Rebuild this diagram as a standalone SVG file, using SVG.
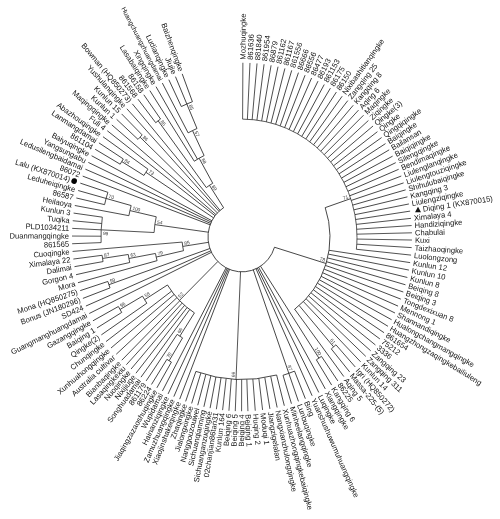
<svg xmlns="http://www.w3.org/2000/svg" width="500" height="519" viewBox="0 0 500 519">
<style>
text{font-family:"Liberation Sans",Arial,sans-serif;font-size:7.6px;fill:#111}
.l{text-anchor:end}
.b{font-size:4.8px;fill:#333}
.s{font-size:6.6px}
#connectors line,#connectors circle{stroke:#222;stroke-width:0.75;fill:none}
#tree{opacity:0.995}
</style>
<rect width="500" height="519" fill="#fff"/>
<g id="tree" transform="translate(242,237) scale(1,1.025)">
<g id="connectors">
<circle r="115" transform="rotate(-89.7)" stroke-dasharray="192.02 3000"/>
<circle r="88" transform="rotate(-19)" stroke-dasharray="110.91 3000"/>
<circle r="34" transform="rotate(17.1)" stroke-dasharray="130.59 3000"/>
<circle r="141" transform="rotate(48.23)" stroke-dasharray="6.13 3000"/>
<circle r="141" transform="rotate(55.69)" stroke-dasharray="6.13 3000"/>
<circle r="141" transform="rotate(68.12)" stroke-dasharray="12.23 3000"/>
<circle r="139" transform="rotate(75.58)" stroke-dasharray="81.95 3000"/>
<circle r="141" transform="rotate(120.05)" stroke-dasharray="5.24 3000"/>
<circle r="115" transform="rotate(121.12)" stroke-dasharray="6.42 3000"/>
<circle r="141" transform="rotate(148.54)" stroke-dasharray="6.67 3000"/>
<circle r="115" transform="rotate(145.83)" stroke-dasharray="8.17 3000"/>
<circle r="88" transform="rotate(122.72)" stroke-dasharray="38.63 3000"/>
<circle r="141" transform="rotate(159.37)" stroke-dasharray="6.67 3000"/>
<circle r="141" transform="rotate(170.2)" stroke-dasharray="6.23 3000"/>
<circle r="115" transform="rotate(167.5)" stroke-dasharray="7.97 3000"/>
<circle r="88" transform="rotate(164.79)" stroke-dasharray="7.22 3000"/>
<circle r="60" transform="rotate(167.14)" stroke-dasharray="8.49 3000"/>
<circle r="141" transform="rotate(177.78)" stroke-dasharray="24.88 3000"/>
<circle r="141" transform="rotate(192.94)" stroke-dasharray="12.45 3000"/>
<circle r="115" transform="rotate(190.42)" stroke-dasharray="10.14 3000"/>
<circle r="88" transform="rotate(182.84)" stroke-dasharray="15.53 3000"/>
<circle r="141" transform="rotate(210.24)" stroke-dasharray="6.03 3000"/>
<circle r="115" transform="rotate(211.47)" stroke-dasharray="7.37 3000"/>
<circle r="141" transform="rotate(222.48)" stroke-dasharray="6.03 3000"/>
<circle r="141" transform="rotate(232.27)" stroke-dasharray="6.03 3000"/>
<circle r="141" transform="rotate(244.51)" stroke-dasharray="12.06 3000"/>
<circle r="115" transform="rotate(242.06)" stroke-dasharray="9.84 3000"/>
<circle r="88" transform="rotate(237.17)" stroke-dasharray="11.27 3000"/>
<circle r="60" transform="rotate(233.5)" stroke-dasharray="7.69 3000"/>
<line x1="88" x2="115" transform="rotate(-19)"/>
<line x1="34" x2="88" transform="rotate(17.1)"/>
<line x1="88" x2="141" transform="rotate(49.48)"/>
<line x1="34" x2="141" transform="rotate(56.94)"/>
<line x1="34" x2="141" transform="rotate(70.6)"/>
<line x1="34" x2="139" transform="rotate(92.47)"/>
<line x1="115" x2="141" transform="rotate(121.12)"/>
<line x1="88" x2="115" transform="rotate(122.72)"/>
<line x1="115" x2="141" transform="rotate(149.9)"/>
<line x1="88" x2="115" transform="rotate(147.87)"/>
<line x1="34" x2="88" transform="rotate(135.3)"/>
<line x1="34" x2="141" transform="rotate(160.73)"/>
<line x1="115" x2="141" transform="rotate(171.47)"/>
<line x1="88" x2="115" transform="rotate(169.49)"/>
<line x1="60" x2="88" transform="rotate(167.14)"/>
<line x1="34" x2="60" transform="rotate(171.2)"/>
<line x1="88" x2="141" transform="rotate(182.84)"/>
<line x1="115" x2="141" transform="rotate(195.47)"/>
<line x1="88" x2="115" transform="rotate(192.95)"/>
<line x1="34" x2="88" transform="rotate(187.9)"/>
<line x1="115" x2="141" transform="rotate(211.47)"/>
<line x1="34" x2="115" transform="rotate(213.3)"/>
<line x1="34" x2="141" transform="rotate(223.7)"/>
<line x1="60" x2="141" transform="rotate(233.5)"/>
<line x1="115" x2="141" transform="rotate(246.96)"/>
<line x1="88" x2="115" transform="rotate(244.51)"/>
<line x1="60" x2="88" transform="rotate(240.84)"/>
<line x1="34" x2="60" transform="rotate(237.17)"/>
<line x1="115" x2="170" transform="rotate(-89.7)"/>
<line x1="115" x2="170" transform="rotate(-87.31)"/>
<line x1="115" x2="170" transform="rotate(-84.93)"/>
<line x1="115" x2="170" transform="rotate(-82.54)"/>
<line x1="115" x2="170" transform="rotate(-80.15)"/>
<line x1="115" x2="170" transform="rotate(-77.76)"/>
<line x1="115" x2="170" transform="rotate(-75.38)"/>
<line x1="115" x2="170" transform="rotate(-72.99)"/>
<line x1="115" x2="170" transform="rotate(-70.6)"/>
<line x1="115" x2="170" transform="rotate(-68.22)"/>
<line x1="115" x2="170" transform="rotate(-65.83)"/>
<line x1="115" x2="170" transform="rotate(-63.44)"/>
<line x1="115" x2="170" transform="rotate(-61.06)"/>
<line x1="115" x2="170" transform="rotate(-58.67)"/>
<line x1="115" x2="170" transform="rotate(-56.28)"/>
<line x1="115" x2="170" transform="rotate(-53.89)"/>
<line x1="115" x2="170" transform="rotate(-51.51)"/>
<line x1="115" x2="170" transform="rotate(-49.12)"/>
<line x1="115" x2="170" transform="rotate(-46.73)"/>
<line x1="115" x2="170" transform="rotate(-44.35)"/>
<line x1="115" x2="170" transform="rotate(-41.96)"/>
<line x1="115" x2="170" transform="rotate(-39.57)"/>
<line x1="115" x2="170" transform="rotate(-37.19)"/>
<line x1="115" x2="170" transform="rotate(-34.8)"/>
<line x1="115" x2="170" transform="rotate(-32.41)"/>
<line x1="115" x2="170" transform="rotate(-30.02)"/>
<line x1="115" x2="170" transform="rotate(-27.64)"/>
<line x1="115" x2="170" transform="rotate(-25.25)"/>
<line x1="115" x2="170" transform="rotate(-22.86)"/>
<line x1="115" x2="170" transform="rotate(-20.48)"/>
<line x1="115" x2="170" transform="rotate(-18.09)"/>
<line x1="115" x2="170" transform="rotate(-15.7)"/>
<line x1="115" x2="170" transform="rotate(-13.32)"/>
<line x1="115" x2="170" transform="rotate(-10.93)"/>
<line x1="115" x2="170" transform="rotate(-8.54)"/>
<line x1="115" x2="170" transform="rotate(-6.15)"/>
<line x1="115" x2="170" transform="rotate(-3.77)"/>
<line x1="115" x2="170" transform="rotate(-1.38)"/>
<line x1="115" x2="170" transform="rotate(1)"/>
<line x1="115" x2="170" transform="rotate(3.49)"/>
<line x1="115" x2="170" transform="rotate(5.97)"/>
<line x1="88" x2="170" transform="rotate(8.46)"/>
<line x1="88" x2="170" transform="rotate(10.94)"/>
<line x1="88" x2="170" transform="rotate(13.43)"/>
<line x1="88" x2="170" transform="rotate(15.92)"/>
<line x1="88" x2="170" transform="rotate(18.4)"/>
<line x1="88" x2="170" transform="rotate(20.89)"/>
<line x1="88" x2="170" transform="rotate(23.37)"/>
<line x1="88" x2="170" transform="rotate(25.86)"/>
<line x1="88" x2="170" transform="rotate(28.35)"/>
<line x1="88" x2="170" transform="rotate(30.83)"/>
<line x1="88" x2="170" transform="rotate(33.32)"/>
<line x1="88" x2="170" transform="rotate(35.8)"/>
<line x1="88" x2="170" transform="rotate(38.29)"/>
<line x1="88" x2="170" transform="rotate(40.78)"/>
<line x1="88" x2="170" transform="rotate(43.26)"/>
<line x1="88" x2="170" transform="rotate(45.75)"/>
<line x1="141" x2="170" transform="rotate(48.23)"/>
<line x1="141" x2="170" transform="rotate(50.72)"/>
<line x1="88" x2="170" transform="rotate(53.21)"/>
<line x1="141" x2="170" transform="rotate(55.69)"/>
<line x1="141" x2="170" transform="rotate(58.18)"/>
<line x1="34" x2="170" transform="rotate(60.66)"/>
<line x1="34" x2="170" transform="rotate(63.15)"/>
<line x1="34" x2="170" transform="rotate(65.64)"/>
<line x1="141" x2="170" transform="rotate(68.12)"/>
<line x1="141" x2="170" transform="rotate(70.61)"/>
<line x1="141" x2="170" transform="rotate(73.09)"/>
<line x1="139" x2="170" transform="rotate(75.58)"/>
<line x1="139" x2="170" transform="rotate(78.07)"/>
<line x1="139" x2="170" transform="rotate(80.55)"/>
<line x1="139" x2="170" transform="rotate(83.04)"/>
<line x1="139" x2="170" transform="rotate(85.52)"/>
<line x1="139" x2="170" transform="rotate(88)"/>
<line x1="139" x2="170" transform="rotate(90.14)"/>
<line x1="139" x2="170" transform="rotate(92.27)"/>
<line x1="139" x2="170" transform="rotate(94.41)"/>
<line x1="139" x2="170" transform="rotate(96.55)"/>
<line x1="139" x2="170" transform="rotate(98.68)"/>
<line x1="139" x2="170" transform="rotate(100.82)"/>
<line x1="139" x2="170" transform="rotate(102.95)"/>
<line x1="139" x2="170" transform="rotate(105.09)"/>
<line x1="139" x2="170" transform="rotate(107.23)"/>
<line x1="139" x2="170" transform="rotate(109.36)"/>
<line x1="34" x2="170" transform="rotate(111.5)"/>
<line x1="34" x2="170" transform="rotate(113.64)"/>
<line x1="34" x2="170" transform="rotate(115.77)"/>
<line x1="34" x2="170" transform="rotate(117.91)"/>
<line x1="141" x2="170" transform="rotate(120.05)"/>
<line x1="141" x2="170" transform="rotate(122.18)"/>
<line x1="115" x2="170" transform="rotate(124.32)"/>
<line x1="88" x2="170" transform="rotate(126.45)"/>
<line x1="88" x2="170" transform="rotate(128.59)"/>
<line x1="88" x2="170" transform="rotate(130.73)"/>
<line x1="88" x2="170" transform="rotate(132.86)"/>
<line x1="88" x2="170" transform="rotate(135)"/>
<line x1="88" x2="170" transform="rotate(137.71)"/>
<line x1="88" x2="170" transform="rotate(140.42)"/>
<line x1="88" x2="170" transform="rotate(143.12)"/>
<line x1="115" x2="170" transform="rotate(145.83)"/>
<line x1="141" x2="170" transform="rotate(148.54)"/>
<line x1="141" x2="170" transform="rotate(151.25)"/>
<line x1="34" x2="170" transform="rotate(153.96)"/>
<line x1="34" x2="170" transform="rotate(156.66)"/>
<line x1="141" x2="170" transform="rotate(159.37)"/>
<line x1="141" x2="170" transform="rotate(162.08)"/>
<line x1="88" x2="170" transform="rotate(164.79)"/>
<line x1="115" x2="170" transform="rotate(167.5)"/>
<line x1="141" x2="170" transform="rotate(170.2)"/>
<line x1="141" x2="170" transform="rotate(172.73)"/>
<line x1="60" x2="170" transform="rotate(175.25)"/>
<line x1="141" x2="170" transform="rotate(177.78)"/>
<line x1="141" x2="170" transform="rotate(180.31)"/>
<line x1="141" x2="170" transform="rotate(182.84)"/>
<line x1="141" x2="170" transform="rotate(185.36)"/>
<line x1="141" x2="170" transform="rotate(187.89)"/>
<line x1="115" x2="170" transform="rotate(190.42)"/>
<line x1="141" x2="170" transform="rotate(192.94)"/>
<line x1="141" x2="170" transform="rotate(195.47)"/>
<line x1="141" x2="170" transform="rotate(198)"/>
<line x1="34" x2="170" transform="rotate(200.45)"/>
<line x1="34" x2="170" transform="rotate(202.9)"/>
<line x1="34" x2="170" transform="rotate(205.34)"/>
<line x1="34" x2="170" transform="rotate(207.79)"/>
<line x1="141" x2="170" transform="rotate(210.24)"/>
<line x1="141" x2="170" transform="rotate(212.69)"/>
<line x1="115" x2="170" transform="rotate(215.14)"/>
<line x1="34" x2="170" transform="rotate(217.58)"/>
<line x1="34" x2="170" transform="rotate(220.03)"/>
<line x1="141" x2="170" transform="rotate(222.48)"/>
<line x1="141" x2="170" transform="rotate(224.93)"/>
<line x1="34" x2="170" transform="rotate(227.38)"/>
<line x1="34" x2="170" transform="rotate(229.82)"/>
<line x1="141" x2="170" transform="rotate(232.27)"/>
<line x1="141" x2="170" transform="rotate(234.72)"/>
<line x1="88" x2="170" transform="rotate(237.17)"/>
<line x1="88" x2="170" transform="rotate(239.62)"/>
<line x1="115" x2="170" transform="rotate(242.06)"/>
<line x1="141" x2="170" transform="rotate(244.51)"/>
<line x1="141" x2="170" transform="rotate(246.96)"/>
<line x1="141" x2="170" transform="rotate(249.41)"/>
</g>
<g id="bootstrap">
<text class="b l" x="113" y="-1.2" transform="rotate(-19)">71</text>
<text class="b l" x="86" y="-1.2" transform="rotate(17.1)">78</text>
<text class="b l" x="139" y="-1.2" transform="rotate(49.48)">61</text>
<text class="b l" x="139" y="-1.2" transform="rotate(56.94)">100</text>
<text class="b l" x="139" y="-1.2" transform="rotate(70.6)">87</text>
<text class="b" x="-137" y="-1.2" transform="rotate(-87.53)">99</text>
<text class="b" x="-139" y="-1.2" transform="rotate(-58.88)">70</text>
<text class="b" x="-113" y="-1.2" transform="rotate(-57.28)">66</text>
<text class="b" x="-86" y="-1.2" transform="rotate(-44.7)">52</text>
<text class="b" x="-139" y="-1.2" transform="rotate(-30.1)">96</text>
<text class="b" x="-113" y="-1.2" transform="rotate(-32.13)">58</text>
<text class="b" x="-139" y="-1.2" transform="rotate(-19.27)">99</text>
<text class="b" x="-139" y="-1.2" transform="rotate(-8.53)">87</text>
<text class="b" x="-113" y="-1.2" transform="rotate(-10.51)">63</text>
<text class="b" x="-86" y="-1.2" transform="rotate(-12.86)">79</text>
<text class="b" x="-58" y="-1.2" transform="rotate(-8.8)">85</text>
<text class="b" x="-139" y="5" transform="rotate(2.84)">99</text>
<text class="b" x="-139" y="-1.2" transform="rotate(15.47)">70</text>
<text class="b" x="-113" y="-1.2" transform="rotate(12.95)">100</text>
<text class="b" x="-86" y="-1.2" transform="rotate(7.9)">54</text>
<text class="b" x="-139" y="-1.2" transform="rotate(31.47)">84</text>
<text class="b" x="-113" y="-1.2" transform="rotate(33.3)">73</text>
<text class="b" x="-139" y="-1.2" transform="rotate(43.7)">86</text>
<text class="b" x="-139" y="-1.2" transform="rotate(53.5)">85</text>
<text class="b" x="-139" y="-1.2" transform="rotate(66.96)">85</text>
<text class="b" x="-113" y="-1.2" transform="rotate(64.51)">57</text>
<text class="b" x="-86" y="-1.2" transform="rotate(60.84)">68</text>
<text class="b" x="-58" y="-1.2" transform="rotate(57.17)">89</text>
</g>
<g id="n0" transform="rotate(-89.7)"><text x="173" y="2.6">Mozhuqingke</text></g>
<g id="n1" transform="rotate(-87.31)"><text x="173" y="2.6">861636</text></g>
<g id="n2" transform="rotate(-84.93)"><text x="173" y="2.6">881840</text></g>
<g id="n3" transform="rotate(-82.54)"><text x="173" y="2.6">861954</text></g>
<g id="n4" transform="rotate(-80.15)"><text x="173" y="2.6">86879</text></g>
<g id="n5" transform="rotate(-77.76)"><text x="173" y="2.6">861162</text></g>
<g id="n6" transform="rotate(-75.38)"><text x="173" y="2.6">861167</text></g>
<g id="n7" transform="rotate(-72.99)"><text x="173" y="2.6">861556</text></g>
<g id="n8" transform="rotate(-70.6)"><text x="173" y="2.6">86666</text></g>
<g id="n9" transform="rotate(-68.22)"><text x="173" y="2.6">86556</text></g>
<g id="n10" transform="rotate(-65.83)"><text x="173" y="2.6">86477</text></g>
<g id="n11" transform="rotate(-63.44)"><text x="173" y="2.6">86193</text></g>
<g id="n12" transform="rotate(-61.06)"><text x="173" y="2.6">861153</text></g>
<g id="n13" transform="rotate(-58.67)"><text x="173" y="2.6">86175</text></g>
<g id="n14" transform="rotate(-56.28)"><text x="173" y="2.6">86150</text></g>
<g id="n15" transform="rotate(-53.89)"><text x="173" y="2.6">Nixibashitianqingke</text></g>
<g id="n16" transform="rotate(-51.51)"><text x="173" y="2.6">Zangqing 25</text></g>
<g id="n17" transform="rotate(-49.12)"><text x="173" y="2.6">Kangqing 8</text></g>
<g id="n18" transform="rotate(-46.73)"><text x="173" y="2.6">Aqing 6</text></g>
<g id="n19" transform="rotate(-44.35)"><text x="173" y="2.6">Maqingke</text></g>
<g id="n20" transform="rotate(-41.96)"><text x="173" y="2.6">Ziqingke</text></g>
<g id="n21" transform="rotate(-39.57)"><text x="173" y="2.6">Qingke(3)</text></g>
<g id="n22" transform="rotate(-37.19)"><text x="173" y="2.6">Qingke</text></g>
<g id="n23" transform="rotate(-34.8)"><text x="173" y="2.6">Qingqiqingke</text></g>
<g id="n24" transform="rotate(-32.41)"><text x="173" y="2.6">Baiqingke</text></g>
<g id="n25" transform="rotate(-30.02)"><text x="173" y="2.6">Bailansan</text></g>
<g id="n26" transform="rotate(-27.64)"><text x="173" y="2.6">Baiqiqingke</text></g>
<g id="n27" transform="rotate(-25.25)"><text x="173" y="2.6">Silengqingke</text></g>
<g id="n28" transform="rotate(-22.86)"><text x="173" y="2.6">Bendimaqingke</text></g>
<g id="n29" transform="rotate(-20.48)"><text x="173" y="2.6">Liulenglanqingke</text></g>
<g id="n30" transform="rotate(-18.09)"><text x="173" y="2.6">Liulengtouziqingke</text></g>
<g id="n31" transform="rotate(-15.7)"><text x="173" y="2.6">Shihulubaiqingke</text></g>
<g id="n32" transform="rotate(-13.32)"><text x="173" y="2.6">Kangqing 3</text></g>
<g id="n33" transform="rotate(-10.93)"><text x="173" y="2.6">Liulengziqingke</text></g>
<g id="n34" transform="rotate(-8.54)"><polygon points="-3,2.2 3,2.2 0,-3" transform="translate(178,0) rotate(8.54)" fill="#111"/><text x="183" y="2.6">Diqing 1 (KX870015)</text></g>
<g id="n35" transform="rotate(-6.15)"><text x="173" y="2.6">Ximalaya 4</text></g>
<g id="n36" transform="rotate(-3.77)"><text x="173" y="2.6">Handiziqingke</text></g>
<g id="n37" transform="rotate(-1.38)"><text x="173" y="2.6">Chabulai</text></g>
<g id="n38" transform="rotate(1)"><text x="173" y="2.6">Kuxi</text></g>
<g id="n39" transform="rotate(3.49)"><text x="173" y="2.6">Taizhaoqingke</text></g>
<g id="n40" transform="rotate(5.97)"><text x="173" y="2.6">Luolongzong</text></g>
<g id="n41" transform="rotate(8.46)"><text x="173" y="2.6">Kunlun 12</text></g>
<g id="n42" transform="rotate(10.94)"><text x="173" y="2.6">Kunlun 10</text></g>
<g id="n43" transform="rotate(13.43)"><text x="173" y="2.6">Kunlun 8</text></g>
<g id="n44" transform="rotate(15.92)"><text x="173" y="2.6">Beiqing 8</text></g>
<g id="n45" transform="rotate(18.4)"><text x="173" y="2.6">Beiqing 3</text></g>
<g id="n46" transform="rotate(20.89)"><text x="173" y="2.6">Tongdexixuan 8</text></g>
<g id="n47" transform="rotate(23.37)"><text x="173" y="2.6">Mennong 1</text></g>
<g id="n48" transform="rotate(25.86)"><text x="173" y="2.6">Shannandiqingke</text></g>
<g id="n49" transform="rotate(28.35)"><text x="173" y="2.6">Hualongchangmangqingke</text></g>
<g id="n50" transform="rotate(30.83)"><text x="173" y="2.6">Huangzhongzaqingkebailiuleng</text></g>
<g id="n51" transform="rotate(33.32)"><text x="173" y="2.6">861654</text></g>
<g id="n52" transform="rotate(35.8)"><text x="173" y="2.6">75212</text></g>
<g id="n53" transform="rotate(38.29)"><text x="173" y="2.6">3336</text></g>
<g id="n54" transform="rotate(40.78)"><text x="173" y="2.6">Zangqing 23</text></g>
<g id="n55" transform="rotate(43.26)"><text x="173" y="2.6">Zangqing 311</text></g>
<g id="n56" transform="rotate(45.75)"><text x="173" y="2.6">Kunlun 14</text></g>
<g id="n57" transform="rotate(48.23)"><text x="173" y="2.6">Igri (HQ850272)</text></g>
<g id="n58" transform="rotate(50.72)"><text x="173" y="2.6">Massa-225-(5)</text></g>
<g id="n59" transform="rotate(53.21)"><text x="173" y="2.6">Aqing 5</text></g>
<g id="n60" transform="rotate(55.69)"><text x="173" y="2.6">86225</text></g>
<g id="n61" transform="rotate(58.18)"><text x="173" y="2.6">Kangqing 6</text></g>
<g id="n62" transform="rotate(60.66)"><text x="173" y="2.6">Xiangqingke</text></g>
<g id="n63" transform="rotate(63.15)"><text x="173" y="2.6">Luqingke</text></g>
<g id="n64" transform="rotate(65.64)"><text x="173" y="2.6">Yuanshushuwumuhuangqingke</text></g>
<g id="n65" transform="rotate(68.12)"><text x="173" y="2.6">Bing</text></g>
<g id="n66" transform="rotate(70.61)"><text x="173" y="2.6">Lunbuqingke</text></g>
<g id="n67" transform="rotate(73.09)"><text x="173" y="2.6">Minheelangqingke</text></g>
<g id="n68" transform="rotate(75.58)"><text x="173" y="2.6">Xunhuazhongqingkebaiqingke</text></g>
<g id="n69" transform="rotate(78.07)"><text x="173" y="2.6">Nangxianzhulongqingke</text></g>
<g id="n70" transform="rotate(80.55)"><text x="173" y="2.6">Jiangzigelalan</text></g>
<g id="n71" transform="rotate(83.04)"><text x="173" y="2.6">Moduqi 1</text></g>
<g id="n72" transform="rotate(85.52)"><text x="173" y="2.6">Huqing 2</text></g>
<g id="n73" transform="rotate(88)"><text x="173" y="2.6">Beiqing 1</text></g>
<g id="n74" transform="rotate(-89.86)"><text class="l" x="-173" y="2.6">Beiqing 4</text></g>
<g id="n75" transform="rotate(-87.73)"><text class="l" x="-173" y="2.6">Beiqing 5</text></g>
<g id="n76" transform="rotate(-85.59)"><text class="l" x="-173" y="2.6">Beiqing 6</text></g>
<g id="n77" transform="rotate(-83.45)"><text class="l" x="-173" y="2.6">Kunlun 164</text></g>
<g id="n78" transform="rotate(-81.32)"><text class="l" x="-173" y="2.6">02chanjian86tan31</text></g>
<g id="n79" transform="rotate(-79.18)"><text class="l" x="-173" y="2.6">Sichuanganzuqingke</text></g>
<g id="n80" transform="rotate(-77.05)"><text class="l" x="-173" y="2.6">Sichuanqianning</text></g>
<g id="n81" transform="rotate(-74.91)"><text class="l" x="-173" y="2.6">Nanggouzouwei</text></g>
<g id="n82" transform="rotate(-72.77)"><text class="l" x="-173" y="2.6">Jialongxingke</text></g>
<g id="n83" transform="rotate(-70.64)"><text class="l" x="-173" y="2.6">Zhaqingke</text></g>
<g id="n84" transform="rotate(-68.5)"><text class="l" x="-173" y="2.6">Xiaojinshakeqingke</text></g>
<g id="n85" transform="rotate(-66.36)"><text class="l" x="-173" y="2.6">Zamuzhuangqingke</text></g>
<g id="n86" transform="rotate(-64.23)"><text class="l" x="-173" y="2.6">Hainanziqingke</text></g>
<g id="n87" transform="rotate(-62.09)"><text class="l" x="-173" y="2.6">Wupidamai</text></g>
<g id="n88" transform="rotate(-59.95)"><text class="l" x="-173" y="2.6">Jiaqingzazaoshuqingke</text></g>
<g id="n89" transform="rotate(-57.82)"><text class="l" x="-173" y="2.6">86224</text></g>
<g id="n90" transform="rotate(-55.68)"><text class="l" x="-173" y="2.6">861179</text></g>
<g id="n91" transform="rotate(-53.55)"><text class="l" x="-173" y="2.6">Songhuadamai</text></g>
<g id="n92" transform="rotate(-51.41)"><text class="l" x="-173" y="2.6">Nixijiuge</text></g>
<g id="n93" transform="rotate(-49.27)"><text class="l" x="-173" y="2.6">Nuoqingke</text></g>
<g id="n94" transform="rotate(-47.14)"><text class="l" x="-173" y="2.6">Lasaqingkexiu</text></g>
<g id="n95" transform="rotate(-45)"><text class="l" x="-173" y="2.6">Bianbaqingke</text></g>
<g id="n96" transform="rotate(-42.29)"><text class="l" x="-173" y="2.6">Australia cultivar</text></g>
<g id="n97" transform="rotate(-39.58)"><text class="l" x="-173" y="2.6">Xunhuahongqingke</text></g>
<g id="n98" transform="rotate(-36.88)"><text class="l" x="-173" y="2.6">Chunqingke</text></g>
<g id="n99" transform="rotate(-34.17)"><text class="l" x="-173" y="2.6">Qingke(2)</text></g>
<g id="n100" transform="rotate(-31.46)"><text class="l" x="-173" y="2.6">Baiqing 1</text></g>
<g id="n101" transform="rotate(-28.75)"><text class="l" x="-173" y="2.6">Gazangqingke</text></g>
<g id="n102" transform="rotate(-26.04)"><text class="l" x="-173" y="2.6">Guangmanghuangdamai</text></g>
<g id="n103" transform="rotate(-23.34)"><text class="l" x="-173" y="2.6">SD424</text></g>
<g id="n104" transform="rotate(-20.63)"><text class="l" x="-173" y="2.6">Bonus (JN180296)</text></g>
<g id="n105" transform="rotate(-17.92)"><text class="l" x="-173" y="2.6">Mona (HQ850275)</text></g>
<g id="n106" transform="rotate(-15.21)"><text class="l" x="-173" y="2.6">Mora</text></g>
<g id="n107" transform="rotate(-12.5)"><text class="l" x="-173" y="2.6">Gorgon 4</text></g>
<g id="n108" transform="rotate(-9.8)"><text class="l" x="-173" y="2.6">Dalimai</text></g>
<g id="n109" transform="rotate(-7.27)"><text class="l" x="-173" y="2.6">Ximalaya 22</text></g>
<g id="n110" transform="rotate(-4.75)"><text class="l" x="-173" y="2.6">Cuoqingke</text></g>
<g id="n111" transform="rotate(-2.22)"><text class="l" x="-173" y="2.6">861565</text></g>
<g id="n112" transform="rotate(0.31)"><text class="l" x="-173" y="2.6">Duanmangqingke</text></g>
<g id="n113" transform="rotate(2.84)"><text class="l" x="-173" y="2.6">PLD1034211</text></g>
<g id="n114" transform="rotate(5.36)"><text class="l" x="-173" y="2.6">Tuqika</text></g>
<g id="n115" transform="rotate(7.89)"><text class="l" x="-173" y="2.6">Kunlun 3</text></g>
<g id="n116" transform="rotate(10.42)"><text class="l" x="-173" y="2.6">Heilaoya</text></g>
<g id="n117" transform="rotate(12.94)"><text class="l" x="-173" y="2.6">86587</text></g>
<g id="n118" transform="rotate(15.47)"><text class="l" x="-173" y="2.6">Leduheiqingke</text></g>
<g id="n119" transform="rotate(18)"><circle cx="-176.5" cy="0" r="2.8" fill="#000"/><text class="l" x="-181" y="2.6">Lalu (KX870014)</text></g>
<g id="n120" transform="rotate(20.45)"><text class="l" x="-173" y="2.6">86072</text></g>
<g id="n121" transform="rotate(22.9)"><text class="l" x="-173" y="2.6">Ledusilengbaidamai</text></g>
<g id="n122" transform="rotate(25.34)"><text class="l" x="-173" y="2.6">Yangsungabu</text></g>
<g id="n123" transform="rotate(27.79)"><text class="l" x="-173" y="2.6">Baiyuqingke</text></g>
<g id="n124" transform="rotate(30.24)"><text class="l" x="-173" y="2.6">861104</text></g>
<g id="n125" transform="rotate(32.69)"><text class="l" x="-173" y="2.6">Lanmangdamai</text></g>
<g id="n126" transform="rotate(35.14)"><text class="l" x="-173" y="2.6">Abazhouqingke</text></g>
<g id="n127" transform="rotate(37.58)"><text class="l" x="-173" y="2.6">Fuli 4</text></g>
<g id="n128" transform="rotate(40.03)"><text class="l" x="-173" y="2.6">Maqingqingke</text></g>
<g id="n129" transform="rotate(42.48)"><text class="l" x="-173" y="2.6">Kunlun 1</text></g>
<g id="n130" transform="rotate(44.93)"><text class="l" x="-173" y="2.6">Kunlun 15</text></g>
<g id="n131" transform="rotate(47.38)"><text class="l" x="-173" y="2.6">Yushulanqingke</text></g>
<g id="n132" transform="rotate(49.82)"><text class="l" x="-173" y="2.6">Bowman (HQ850273)</text></g>
<g id="n133" transform="rotate(52.27)"><text class="l" x="-173" y="2.6">861568</text></g>
<g id="n134" transform="rotate(54.72)"><text class="l" x="-173" y="2.6">86158</text></g>
<g id="n135" transform="rotate(57.17)"><text class="l" x="-173" y="2.6">Lasabaiqingke</text></g>
<g id="n136" transform="rotate(59.62)"><text class="l" x="-173" y="2.6">Xingqingke</text></g>
<g id="n137" transform="rotate(62.06)"><text class="l s" x="-173" y="2.3">Huangchuangzhuangdamai</text></g>
<g id="n138" transform="rotate(64.51)"><text class="l" x="-173" y="2.6">Ludianqingke</text></g>
<g id="n139" transform="rotate(66.96)"><text class="l" x="-173" y="2.6">Jiujie</text></g>
<g id="n140" transform="rotate(69.41)"><text class="l" x="-173" y="2.6">Baizhenqingke</text></g>
</g>
</svg>
